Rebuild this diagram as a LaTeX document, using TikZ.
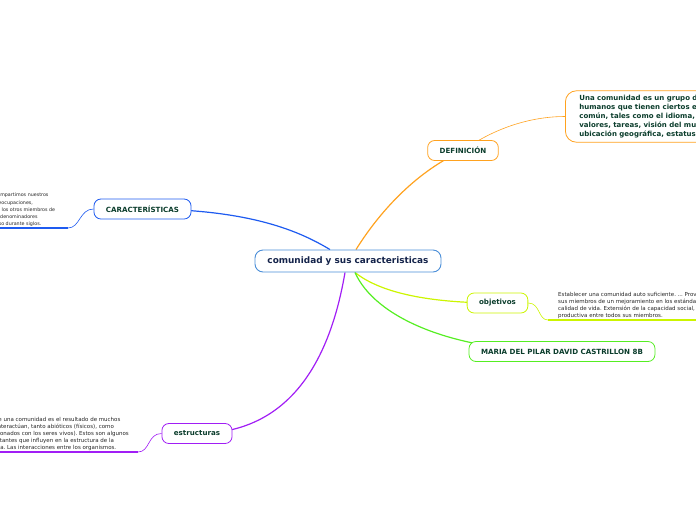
\documentclass[tikz,border=0pt]{standalone}
\usepackage{fontspec}
\setmainfont{DejaVu Sans}
\usetikzlibrary{positioning,backgrounds}
\frenchspacing

\definecolor{txtgreen}{HTML}{0B3D2C}
\definecolor{txtnavy}{HTML}{14234A}
\definecolor{ctrblue}{HTML}{4A8ED8}
\definecolor{brblue}{HTML}{1E5BF0}
\definecolor{brorange}{HTML}{FFA21F}
\definecolor{bryellow}{HTML}{CCF500}
\definecolor{brgreen}{HTML}{55EE22}
\definecolor{brpurple}{HTML}{A11EF5}

\begin{document}
\begin{tikzpicture}[x=1pt, y=-1pt,
  central/.style={draw=ctrblue, fill=white, rounded corners=8pt, line width=0.9pt, minimum width=186, minimum height=22, font=\fontsize{8.9}{10}\selectfont\bfseries, text=txtnavy},
  topic/.style={fill=white, rounded corners=7pt, line width=0.8pt, minimum height=20, inner xsep=12pt, inner ysep=0pt, font=\fontsize{7.1}{8}\selectfont\bfseries, text=txtgreen},
  defbox/.style={draw=brorange, fill=white, rounded corners=11pt, line width=0.8pt, align=left, font=\fontsize{7}{8.9}\selectfont\bfseries, text=txtgreen, inner xsep=14pt, inner ysep=4.5pt},
  note/.style={align=left, anchor=south west, font=\fontsize{5.5}{7}\selectfont, text=black!85, inner xsep=9pt, inner ysep=1.5pt},
  branch/.style={line width=1.2pt},
  twig/.style={line width=0.6pt},
  uline/.style={line width=1.4pt}
]
\useasboundingbox (0,0) rectangle (696,520);
\clip (0,0) rectangle (696,520);

\node[central] (ctr) at (348,261) {comunidad y sus caracteristicas};

\node[topic, draw=brblue] (car) at (142.5,209) {CARACTERÍSTICAS};
\node[topic, draw=brorange] (def) at (463,150.5) {DEFINICIÓN};
\node[topic, draw=bryellow] (obj) at (497.5,303) {objetivos};
\node[topic, draw=brgreen] (maria) at (562,351.5) {MARIA DEL PILAR DAVID CASTRILLON 8B};
\node[topic, draw=brpurple] (estr) at (197,433.5) {estructuras};

\node[defbox, anchor=west] (deftxt) at (565,116.5) {Una comunidad es un grupo de seres\\humanos que tienen ciertos elementos en\\común, tales como el idioma, costumbres,\\valores, tareas, visión del mundo, edad,\\ubicación geográfica, estatus social, roles.};

% notes hang off the left and right edges
\node[note, font=\fontsize{4.8}{7.1}\selectfont] (cartxt) at (-61.5,228) {Es aquel con quien compartimos nuestros\\intereses, metas y preocupaciones,\\nos identificamos con los otros miembros de\\ella, porque tenemos denominadores\\comunes, todos incluso durante siglos.};
\node[note, inner xsep=10pt] (objtxt) at (548,320) {Establecer una comunidad auto suficiente. ... Proveer a\\sus miembros de un mejoramiento en los estándares de\\calidad de vida. Extensión de la capacidad social,\\productiva entre todos sus miembros.};
\node[note] (estrtxt) at (-49.3,452) {La dinámica de una comunidad es el resultado de muchos\\factores que interactúan, tanto abióticos (físicos), como\\bióticos (relacionados con los seres vivos). Estos son algunos\\factores importantes que influyen en la estructura de la\\comunidad viva. Las interacciones entre los organismos.};

\coordinate (carend) at (68,228);
\coordinate (estrend) at (138,452);

% underlines of the notes
\draw[uline, brblue] (cartxt.south west) -- (carend);
\draw[uline, bryellow] (objtxt.south west) -- (objtxt.south east);
\draw[uline, brpurple] (estrtxt.south west) -- (estrend);

\begin{scope}[on background layer]
\draw[branch, brblue] ([xshift=-18pt]ctr.north) .. controls +(-30,-18) and +(108,0) .. (car.center);
\draw[branch, brorange] ([xshift=8pt]ctr.north) .. controls +(25,-40) and +(-45,20) .. (def.center);
\draw[branch, bryellow] ([xshift=7pt]ctr.south) .. controls +(25,20) and +(-70,0) .. (obj.center);
\draw[branch, brgreen] ([xshift=7pt]ctr.south) .. controls +(20,45) and +(-110,0) .. (maria.center);
\draw[branch, brpurple] ([xshift=-3pt]ctr.south) .. controls +(-15,88) and +(93,0) .. (estr.center);
\draw[twig, brorange] (def.center) .. controls +(35,-25) and +(-30,0) .. (deftxt.west);
\end{scope}

\draw[twig, brblue] (car.west) .. controls +(-14,0) and +(12,0) .. (carend);
\draw[twig, bryellow] (obj.east) .. controls +(12,0) and +(-10,0) .. (objtxt.south west);
\draw[twig, brpurple] (estr.west) .. controls +(-14,0) and +(12,0) .. (estrend);

\end{tikzpicture}
\end{document}
